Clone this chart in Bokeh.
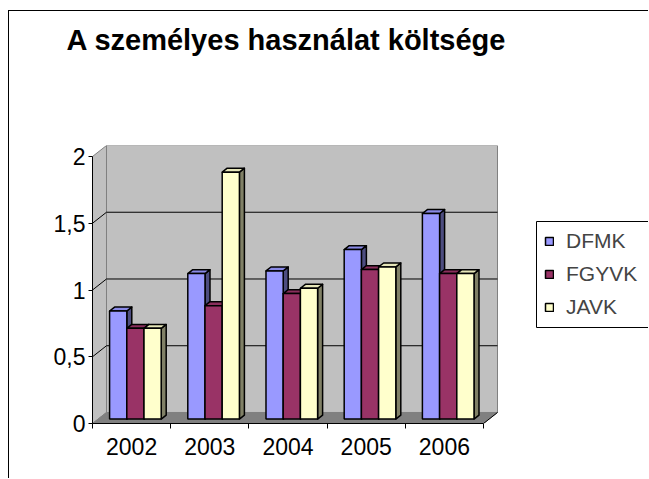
from bokeh.plotting import figure
from bokeh.models import Range1d, FixedTicker, Legend, LegendItem, LinearAxis
from bokeh.embed import file_html
from bokeh.resources import INLINE

# ---- data ----
years = ["2002", "2003", "2004", "2005", "2006"]
series_names = ["DFMK", "FGYVK", "JAVK"]
dfmk = [0.81, 1.09, 1.11, 1.27, 1.54]
fgyvk = [0.68, 0.85, 0.94, 1.12, 1.09]
javk = [0.68, 1.85, 0.98, 1.14, 1.09]
y_ticks = [0, 0.5, 1, 1.5, 2]
y_tick_labels = ["0", "0,5", "1", "1,5", "2"]
title_text = "A személyes használat költsége"

# ---- style / layout ----
front_colors = ["#9999FF", "#993366", "#FFFFCC"]
top_colors = ["#8A8AE6", "#8A2E5C", "#E6E6B8"]
side_colors = ["#4D4D80", "#4D1A33", "#808066"]
FONT = "Liberation Sans"

W, H = 640, 468            # canvas (page offset 9, 11 because of margin + border)
BORDER_L, BORDER_T = 83, 134
FRAME_H = 278
PX_PER_X = 78.2
PX_PER_Y = 133.5
AXIS_X_PAGE = 92           # page x of the front value axis
AXIS_Y_PAGE = 423          # page y of the front category axis
TITLE_CENTER_PAGE = 286    # page x of the title's centre
LEG_L, LEG_T, LEG_B = 536, 221, 327   # legend box (page px)
LEG_PAD = 8

def xd(px):
    return (px - AXIS_X_PAGE) / PX_PER_X

def yd(py):
    return (AXIS_Y_PAGE - py) / PX_PER_Y

n = len(years)
ymax = y_ticks[-1]
DX = 0.179          # wall depth offset (category units)
DY = 0.0824         # wall depth offset (value units)
F0 = 0.4            # depth fraction of bar front face
FB = 0.357          # bar depth fraction
GROUP_START = 0.147
BAR_W = 0.22

frame_w = W - BORDER_L
p = figure(width=W, height=H, output_backend="svg", toolbar_location=None,
           x_range=Range1d(0, frame_w / PX_PER_X), y_range=Range1d(0, ymax + DY),
           min_border_left=BORDER_L, min_border_right=0,
           min_border_top=BORDER_T, min_border_bottom=H - BORDER_T - FRAME_H)
p.margin = (10, 0, 0, 8)
p.styles = {"border-top": "1px solid black", "border-left": "1px solid black"}
p.outline_line_color = None
p.xgrid.visible = False
p.ygrid.visible = False
p.background_fill_color = "white"
p.border_fill_color = "white"

# walls and floor
p.quad(left=[DX], right=[n + DX], bottom=[DY], top=[ymax + DY],
       fill_color="#C0C0C0", line_color="#808080", line_width=1)
p.patch([0, DX, DX, 0], [0, DY, ymax + DY, ymax], fill_color="#C0C0C0",
        line_color="#808080", line_width=1)
p.patch([0, n, n + DX, DX], [0, 0, DY, DY], fill_color="#808080",
        line_color="#808080", line_width=1)

inner = [t for t in y_ticks if 0 < t < ymax]
p.segment(x0=[DX] * len(inner), y0=[t + DY for t in inner],
          x1=[n + DX] * len(inner), y1=[t + DY for t in inner],
          line_color="black", line_width=1)
p.segment(x0=[0] * len(inner), y0=inner, x1=[DX] * len(inner),
          y1=[t + DY for t in inner], line_color="black", line_width=1)
p.segment(x0=[n], y0=[0], x1=[n + DX], y1=[DY], line_color="black", line_width=1)

# bars
bx, by = FB * DX, FB * DY
legend_items = []
for k, (name, vals) in enumerate(zip(series_names, [dfmk, fgyvk, javk])):
    x0s = [i + GROUP_START + k * BAR_W + F0 * DX for i in range(n)]
    x1s = [x + BAR_W for x in x0s]
    y0 = F0 * DY
    y1s = [v + y0 for v in vals]
    side_xs = [[a, a + bx, a + bx, a] for a in x1s]
    side_ys = [[y0, y0 + by, t + by, t] for t in y1s]
    top_xs = [[a, b, b + bx, a + bx] for a, b in zip(x0s, x1s)]
    top_ys = [[t, t, t + by, t + by] for t in y1s]
    p.patches(side_xs, side_ys, fill_color=side_colors[k], line_color="black",
              line_width=1.5, line_join="round")
    p.patches(top_xs, top_ys, fill_color=top_colors[k], line_color="black",
              line_width=1.5, line_join="round")
    r = p.quad(left=x0s, right=x1s, bottom=[y0] * n, top=y1s,
               fill_color=front_colors[k], line_color="black", line_width=1.5)
    legend_items.append(LegendItem(label=name, renderers=[r]))

# axes
xa = p.xaxis[0]
xa.ticker = FixedTicker(ticks=[i + 0.5 for i in range(n)],
                        minor_ticks=list(range(n + 1)))
xa.major_label_overrides = {i + 0.5: y for i, y in enumerate(years)}
xa.bounds = (0, n)
xa.major_tick_out = 0
xa.major_tick_in = 0
xa.minor_tick_out = 5
xa.minor_tick_in = 0
xa.axis_line_color = "black"
xa.minor_tick_line_color = "black"
xa.major_label_standoff = 9
xa.major_label_text_font = FONT
xa.major_label_text_font_size = "23px"
xa.major_label_text_color = "black"

ya = p.yaxis[0]
ya.ticker = FixedTicker(ticks=y_ticks, minor_ticks=[])
ya.major_label_overrides = {t: l for t, l in zip(y_ticks, y_tick_labels)}
ya.bounds = (0, ymax)
ya.major_tick_out = 4
ya.major_tick_in = 0
ya.minor_tick_line_color = None
ya.axis_line_color = "black"
ya.major_tick_line_color = "black"
ya.major_label_standoff = 3
ya.major_label_text_font = FONT
ya.major_label_text_font_size = "23px"
ya.major_label_text_color = "black"

# chart title: the single label of an otherwise invisible axis above the plot
tc = xd(TITLE_CENTER_PAGE)
title_axis = LinearAxis(ticker=FixedTicker(ticks=[tc], minor_ticks=[]),
                        major_label_overrides={tc: title_text},
                        bounds=(0, n),
                        axis_line_color=None, major_tick_line_color=None,
                        minor_tick_line_color=None, major_tick_out=0,
                        major_tick_in=0, minor_tick_out=0, minor_tick_in=0,
                        major_label_standoff=90,
                        major_label_text_font=FONT,
                        major_label_text_font_size="29px",
                        major_label_text_font_style="bold",
                        major_label_text_color="black")
p.add_layout(title_axis, "above")

# legend box (open to the right: it runs past the window's edge)
p.quad(left=[xd(LEG_L)], right=[xd(AXIS_X_PAGE + frame_w + 20)],
       top=[yd(LEG_T)], bottom=[yd(LEG_B)],
       fill_color="white", line_color="black", line_width=1)
legend = Legend(items=legend_items,
                location=(LEG_L + LEG_PAD - AXIS_X_PAGE,
                          AXIS_Y_PAGE - LEG_B + LEG_PAD),
                orientation="vertical",
                label_text_font=FONT, label_text_font_size="21px",
                glyph_width=10, glyph_height=10, label_standoff=12,
                spacing=9, padding=0, margin=0,
                border_line_color=None, background_fill_alpha=0)
p.add_layout(legend, "center")

open("out.html", "w").write(file_html(p, INLINE))
